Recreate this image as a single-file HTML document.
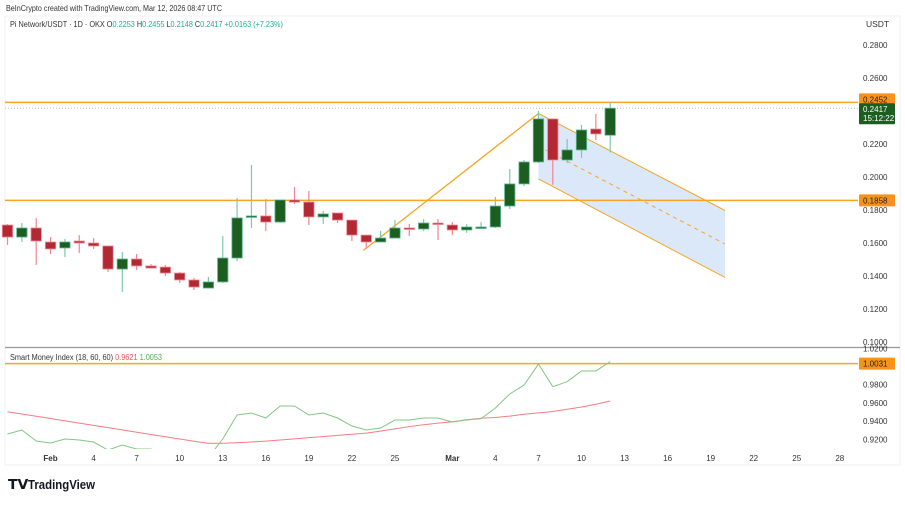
<!DOCTYPE html>
<html><head><meta charset="utf-8">
<style>
body{margin:0;width:905px;height:500px;background:#fff;overflow:hidden;font-family:"Liberation Sans",sans-serif;}
svg text{font-family:"Liberation Sans",sans-serif;}
</style></head>
<body>
<svg id="chart" width="905" height="500" xmlns="http://www.w3.org/2000/svg">
<rect x="0" y="0" width="905" height="500" fill="#fff"/>
<text x="6" y="11" font-size="8.5" fill="#333" textLength="216" lengthAdjust="spacingAndGlyphs">BeInCrypto created with TradingView.com, Mar 12, 2026 08:47 UTC</text>
<rect x="5" y="16" width="895" height="449" fill="none" stroke="#eef0f3"/>
<text x="10" y="27" font-size="8.5" fill="#333" textLength="273" lengthAdjust="spacingAndGlyphs">Pi Network/USDT · 1D · OKX  O<tspan fill="#22ab94">0.2253</tspan>  H<tspan fill="#22ab94">0.2455</tspan>  L<tspan fill="#22ab94">0.2148</tspan>  C<tspan fill="#22ab94">0.2417</tspan>  <tspan fill="#22ab94">+0.0163 (+7.23%)</tspan></text>
<text x="866" y="27" font-size="8.5" fill="#333">USDT</text>
<line x1="5" y1="347.5" x2="900" y2="347.5" stroke="#9598a1" stroke-width="1.2"/>
<text x="10" y="360" font-size="8" fill="#333" textLength="152" lengthAdjust="spacingAndGlyphs">Smart Money Index (18, 60, 60)  <tspan fill="#f7525f">0.9621</tspan>  <tspan fill="#4caf50">1.0053</tspan></text>
<g id="price"></g>
<g id="ind"></g>
<g id="xaxis"></g>
<g>
<text x="8" y="489" font-size="14" font-weight="bold" fill="#131722">𝗧𝗩</text>
<text x="28" y="489" font-size="13" font-weight="bold" fill="#131722" textLength="67" lengthAdjust="spacingAndGlyphs">TradingView</text>
</g>
</svg>
<script>
const opens=[.1709,.1636,.1691,.1606,.1570,.1612,.1600,.1582,.1442,.1503,.1461,.1454,.1418,.1376,.1327,.1364,.1509,.1758,.1764,.1727,.1861,.1848,.1758,.1782,.1739,.1648,.1606,.1630,.1691,.1685,.1721,.1709,.1679,.1691,.1697,.1824,.1958,.2091,.2352,.2103,.2164,.2291,.2253];
const highs=[.1715,.1721,.1752,.1636,.1624,.1648,.1630,.1582,.1545,.1533,.1473,.1467,.1424,.1388,.1394,.1642,.1873,.2073,.1867,.1861,.1939,.1915,.1794,.1782,.1739,.1648,.1673,.1739,.1715,.1745,.1745,.1727,.1715,.1727,.1879,.2048,.2103,.2400,.2352,.2230,.2315,.2382,.2455];
const lows=[.1588,.1606,.1467,.1533,.1515,.1539,.1564,.1424,.1303,.1436,.1448,.1400,.1358,.1315,.1327,.1358,.1491,.1691,.1673,.1721,.1836,.1709,.1715,.1721,.1612,.1564,.1606,.1630,.1642,.1673,.1618,.1648,.1661,.1685,.1691,.1806,.1945,.2085,.1952,.2085,.2115,.2224,.2148];
const closes=[.1636,.1691,.1612,.1564,.1606,.1600,.1582,.1442,.1503,.1461,.1448,.1418,.1376,.1333,.1364,.1509,.1752,.1764,.1727,.1861,.1848,.1758,.1776,.1739,.1648,.1606,.1630,.1691,.1685,.1721,.1715,.1679,.1697,.1697,.1824,.1958,.2091,.2352,.2103,.2164,.2285,.2261,.2417];
const smiFast=[.9258,.9302,.9181,.9159,.9203,.9192,.9170,.9082,.9137,.9093,.9093,.900,.895,.895,.900,.9203,.9467,.9489,.9434,.9566,.9566,.9467,.9489,.9434,.9346,.9302,.9324,.9412,.9412,.9434,.9434,.9390,.9412,.9427,.9544,.9698,.9797,1.0027,.9778,.9833,.9951,.9951,1.0053];
const smiSlow=[.9503,.9478,.9453,.9428,.9403,.9378,.9353,.9328,.9303,.9278,.9253,.9228,.9203,.9178,.9155,.9157,.9162,.9170,.9180,.9192,.9205,.9218,.9230,.9243,.9255,.9268,.9290,.9315,.9340,.9360,.9378,.9393,.9415,.9432,.9440,.9455,.9475,.9490,.9505,.9530,.9555,.9585,.9621];
const priceTicks=[0.28,0.26,0.22,0.20,0.18,0.16,0.14,0.12,0.10];
const smiTicks=[1.02,0.98,0.96,0.94,0.92];
const dateLabels=["Feb","4","7","10","13","16","19","22","25","Mar","4","7","10","13","16","19","22","25","28"];
const dateIdx=[3,6,9,12,15,18,21,24,27,31,34,37,40,43,46,49,52,55,58];
const levels=[0.2452,0.1858];
const lastPrice=0.2417, smiLevel=1.0031;
const trendA=[24.8,0.1555], trendB=[37,0.2385];
const chanTop=[[37,0.2385],[50,0.1797]], chanBot=[[37,0.1988],[50,0.1391]];

const NS="http://www.w3.org/2000/svg";
const X=i=>7.5+i*14.35;
const Y=p=>45+(0.28-p)*1650;
const YI=v=>384.7+(0.98-v)*910;
function mk(parent,tag,attrs){const e=document.createElementNS(NS,tag);for(const k in attrs)e.setAttribute(k,attrs[k]);parent.appendChild(e);return e;}
const price=document.getElementById('price'),ind=document.getElementById('ind'),xa=document.getElementById('xaxis');

priceTicks.forEach(t=>{const e=mk(price,'text',{x:863,y:Y(t)+3,'font-size':8,fill:'#333'});e.textContent=t.toFixed(4);

});

const cp=mk(price,'polygon',{points:[chanTop[0],chanTop[1],chanBot[1],chanBot[0]].map(p=>X(p[0])+','+Y(p[1])).join(' '),fill:'#dbe8fa',stroke:'none'});


[chanTop,chanBot].forEach(c=>{const l=mk(price,'line',{x1:X(c[0][0]),y1:Y(c[0][1]),x2:X(c[1][0]),y2:Y(c[1][1]),stroke:'#f5a623','stroke-width':1});

});
const mid=mk(price,'line',{x1:X(chanTop[0][0]),y1:Y((chanTop[0][1]+chanBot[0][1])/2),x2:X(chanTop[1][0]),y2:Y((chanTop[1][1]+chanBot[1][1])/2),stroke:'#f5a623','stroke-width':1,'stroke-dasharray':'4 4'});



levels.forEach(l=>{const e=mk(price,'line',{x1:5,y1:Y(l),x2:858,y2:Y(l),stroke:'#f5a623','stroke-width':1.5});

});
const dl=mk(price,'line',{x1:5,y1:Y(lastPrice),x2:858,y2:Y(lastPrice),stroke:'#999','stroke-width':0.7,'stroke-dasharray':'1 2'});


const tl=mk(price,'line',{x1:X(trendA[0]),y1:Y(trendA[1]),x2:X(trendB[0]),y2:Y(trendB[1]),stroke:'#f5a623','stroke-width':1.3});



opens.forEach((o,i)=>{const c=closes[i],up=c>=o,x=X(i);
const g=mk(price,'g',{});


mk(g,'line',{x1:x,y1:Y(highs[i]),x2:x,y2:Y(lows[i]),stroke:up?'#7cc9ac':'#f4848f','stroke-width':1.2});
const t=Y(Math.max(o,c)),b=Y(Math.min(o,c));
mk(g,'rect',{x:x-5.2,y:t,width:10.4,height:Math.max(1.5,b-t),fill:up?'#1b5e20':'#b22833',stroke:up?'#5fb89a':'#f28b96','stroke-width':0.8});});

function badge(par,y,h,fill,lines,name){const g=mk(par,'g',{});


mk(g,'rect',{x:859,y:y,width:36,height:h,fill:fill,rx:1});
lines.forEach((s,k)=>{const e=mk(g,'text',{x:863,y:y+9+k*9,'font-size':8,fill:k==0&&fill=='#f7931a'?'#222':'#fff'});e.textContent=s;});}
badge(price,Y(0.2452)-9,11,'#f7931a',['0.2452'],'level-badge-high');
badge(price,Y(lastPrice)-5,21,'#1b5e20',['0.2417','15:12:22'],'last-price-badge');
badge(price,Y(0.1858)-6,12,'#f7931a',['0.1858'],'level-badge-low');

const clip=mk(ind,'clipPath',{id:'ic'});mk(clip,'rect',{x:5,y:349,width:853,height:100});
smiTicks.forEach(t=>{const e=mk(ind,'text',{x:863,y:YI(t)+3,'font-size':8,fill:'#333'});e.textContent=t.toFixed(4);

});
const il=mk(ind,'line',{x1:5,y1:YI(smiLevel),x2:858,y2:YI(smiLevel),stroke:'#f5a623','stroke-width':1.5});


const gc=mk(ind,'g',{'clip-path':'url(#ic)'});
const sl=mk(gc,'polyline',{points:smiSlow.map((v,i)=>X(i)+','+YI(v)).join(' '),fill:'none',stroke:'#f77c80','stroke-width':1});


const fl=mk(gc,'polyline',{points:smiFast.map((v,i)=>X(i)+','+YI(v)).join(' '),fill:'none',stroke:'#81c784','stroke-width':1});


badge(ind,YI(smiLevel)-6,12,'#f7931a',['1.0031'],'smi-level-badge');

dateLabels.forEach((s,k)=>{const e=mk(xa,'text',{x:X(dateIdx[k]),y:461,'font-size':8,fill:'#333','text-anchor':'middle','font-weight':(s=='Feb'||s=='Mar')?'bold':'normal'});e.textContent=s;

});
</script>
</body></html>
